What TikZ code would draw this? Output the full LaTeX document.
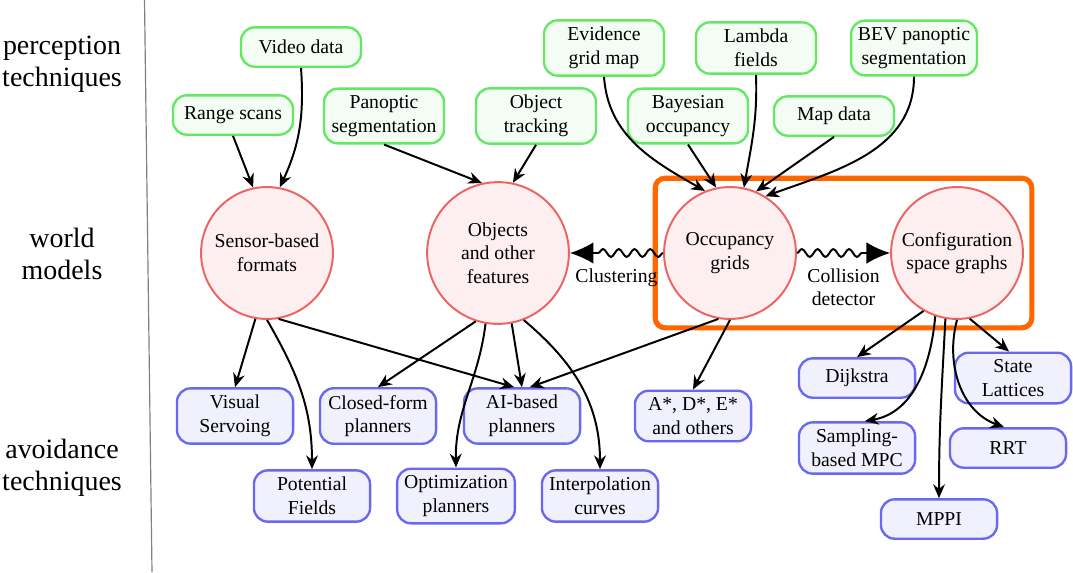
\documentclass[tikz,border=0pt]{standalone}
\usepackage{fontspec}
\setmainfont{Liberation Serif}
\usepackage{tikz}
\usetikzlibrary{fit}
\usetikzlibrary{calc}
\usetikzlibrary{arrows.meta}
\usetikzlibrary{decorations.pathmorphing}
\definecolor{leafgreen}{RGB}{100, 232, 100}
\definecolor{salmonred}{RGB}{236, 100, 100}
\definecolor{lavenderblue}{RGB}{104, 104, 240}
\definecolor{safetyorange}{RGB}{255, 102, 0}

\begin{document}
\begin{tikzpicture}[x=0.508pt, y=-0.508pt,
        percept/.style={draw=leafgreen, fill=leafgreen!8, line width=1.2pt, rounded corners=7pt,
                        align=center, minimum width=61pt, minimum height=20pt, inner sep=3.5pt},
        avoid/.style={draw=lavenderblue, fill=lavenderblue!9, line width=1.2pt, rounded corners=7pt,
                      align=center, minimum width=59pt, minimum height=20pt, inner sep=3.5pt},
        model/.style={circle, draw=salmonred, fill=salmonred!10, line width=1pt,
                      align=center, minimum size=67pt, inner sep=1pt},
        layer/.style={font=\fontsize{14.2}{16.5}\selectfont, align=center},
        edge/.style={-{Stealth[length=7pt,width=6pt]}, line width=1pt},
        wavy/.style={-{Latex[length=12pt,width=11pt]}, line width=1pt, decorate,
                     decoration={snake, amplitude=2pt, segment length=8pt, post length=12pt}}]
    \useasboundingbox (0,0) rectangle (1073,572);
    % Layer labels and separator
    \node[layer] (lperc)  at (62, 64)  {perception\\techniques};
    \node[layer] (lworld) at (62, 254) {world\\models};
    \node[layer] (lavoid) at (62, 468) {avoidance\\techniques};
    \draw[gray, line width=0.6pt] (144.5,0) -- (152,572);
    % Perception techniques
    \node[percept] (videodata)  at (301, 47)  {Video data};
    \node[percept] (rangescans) at (233, 115) {Range scans};
    \node[percept] (panoptic)   at (384, 116) {Panoptic\\segmentation};
    \node[percept] (tracking)   at (536, 116) {Object\\tracking};
    \node[percept] (evidence)   at (604, 48)  {Evidence\\grid map};
    \node[percept] (bayesian)   at (688, 116) {Bayesian\\occupancy};
    \node[percept] (lambda)     at (756, 48)  {Lambda\\fields};
    \node[percept] (mapdata)    at (834, 116) {Map data};
    \node[percept] (bev)        at (914, 48)  {BEV panoptic\\segmentation};
    % World models
    \node[model] (sensor)  at (267, 253) {Sensor-based\\formats};
    \node[model, minimum size=72pt] (objects) at (498, 253) {Objects\\and other\\features};
    \node[model] (occgrid) at (730, 253) {Occupancy\\grids};
    \node[model] (cspace)  at (957, 253) {Configuration\\space graphs};
    % Avoidance techniques
    \node[avoid] (servoing)  at (235, 416) {Visual\\Servoing};
    \node[avoid] (closed)    at (378, 416) {Closed-form\\planners};
    \node[avoid] (aibased)   at (522, 416) {AI-based\\planners};
    \node[avoid] (astar)     at (693, 416) {A*, D*, E*\\and others};
    \node[avoid] (potential) at (312, 496) {Potential\\Fields};
    \node[avoid] (optim)     at (456, 496) {Optimization\\planners};
    \node[avoid] (interp)    at (600, 496) {Interpolation\\curves};
    \node[avoid] (dijkstra)  at (857, 378) {Dijkstra};
    \node[avoid] (lattices)  at (1013, 378) {State\\Lattices};
    \node[avoid] (sampling)  at (857, 448) {Sampling-\\based MPC};
    \node[avoid] (rrt)       at (1008, 448) {RRT};
    \node[avoid] (mppi)      at (939, 519) {MPPI};
    % Highlight frame
    \node[draw=safetyorange, line width=2.6pt, rounded corners=5pt, inner sep=4pt,
          fit=(occgrid) (cspace)] (frame) {};
    % Perception -> world models
    \draw[edge] (rangescans.south) -- (sensor.102);
    \draw[edge] (videodata.south) to[out=-86, in=65] (sensor.79);
    \draw[edge] (panoptic.south) -- (objects.103);
    \draw[edge] (tracking.south) -- (objects.78);
    \draw[edge] (evidence.south) to[out=-86, in=150] (occgrid.112);
    \draw[edge] (bayesian.south) -- (occgrid.102);
    \draw[edge] (lambda.south) to[out=-88, in=80] (occgrid.78);
    \draw[edge] (mapdata.south) -- (occgrid.67);
    \draw[edge] (bev.south) to[out=-90, in=20] (occgrid.58);
    % Conversions between world models
    \draw[wavy] (occgrid.west) -- node[midway, below=4pt] (clustering) {Clustering} (objects.east);
    \draw[wavy] (occgrid.east) -- node[midway, below=4pt, align=center] (collision) {Collision\\detector} (cspace.west);
    % World models -> avoidance techniques
    \draw[edge] (sensor.-100) -- (servoing.north);
    \draw[edge] (sensor.-90) to[out=-60, in=90] (potential.north);
    \draw[edge] (sensor.-80) -- ([xshift=-4pt]aibased.north);
    \draw[edge] (objects.-108) -- (closed.north);
    \draw[edge] (objects.-100) to[out=-97, in=91] (optim.north);
    \draw[edge] (objects.-79) -- (aibased.north);
    \draw[edge] (objects.-69) to[out=-40, in=90] (interp.north);
    \draw[edge] (occgrid.-100) -- ([xshift=4pt]aibased.north);
    \draw[edge] (occgrid.-90) -- (astar.north);
    \draw[edge] (cspace.-120) -- (dijkstra.north);
    \draw[edge] (cspace.-109) to[out=-95, in=10] ([xshift=4pt]sampling.north);
    \draw[edge] (cspace.-100) to[out=-93, in=90] (mppi.north);
    \draw[edge] (cspace.-90) to[out=-105, in=160] ([xshift=-2pt]rrt.north);
    \draw[edge] (cspace.-79) -- ([xshift=-2pt]lattices.north);
\end{tikzpicture}
\end{document}
